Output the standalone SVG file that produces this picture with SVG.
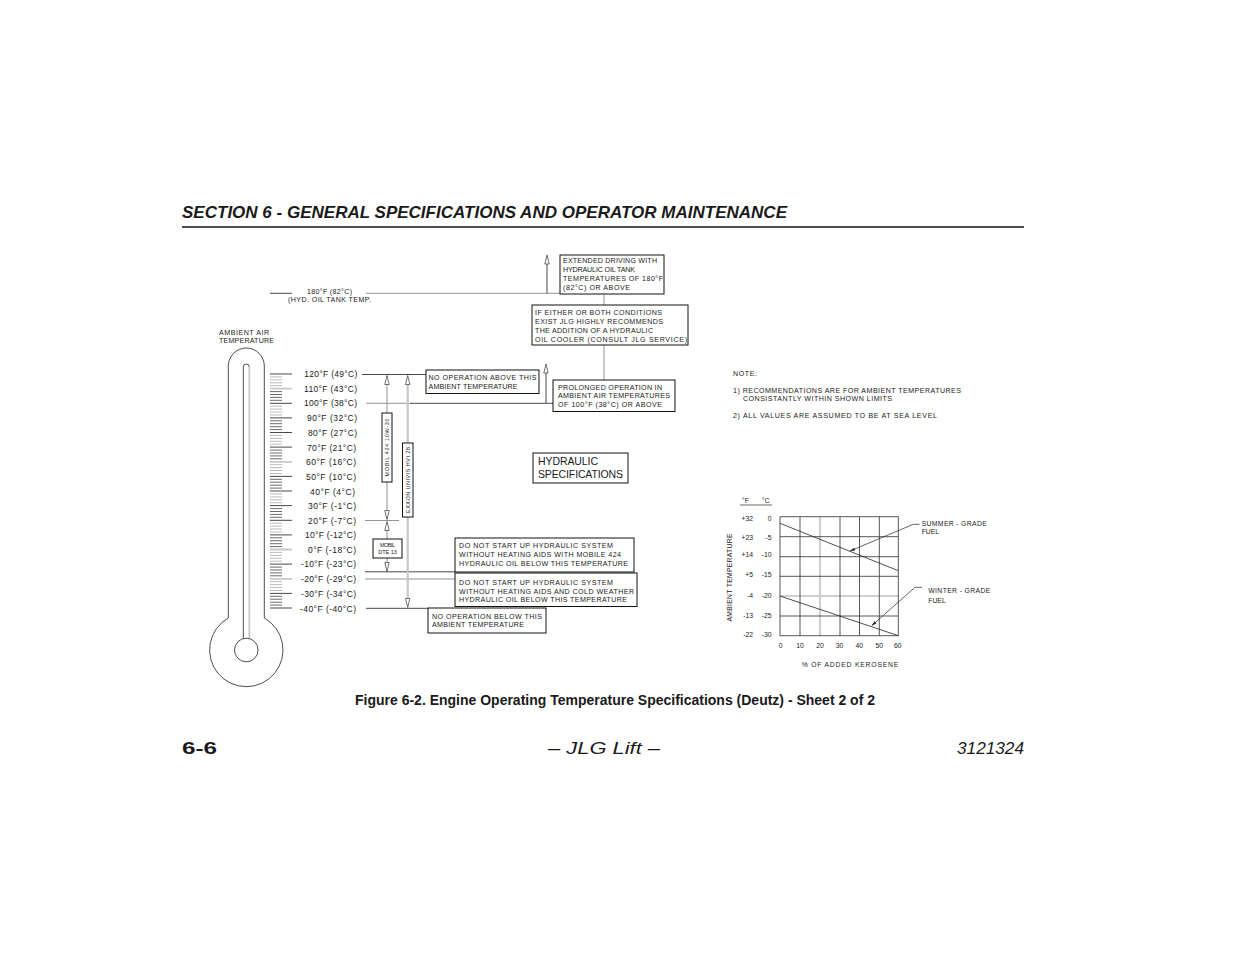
<svg xmlns="http://www.w3.org/2000/svg" xmlns:xlink="http://www.w3.org/1999/xlink" width="1235" height="954" viewBox="0 0 1235 954">
<style>
text{font-family:"Liberation Sans",Arial,Helvetica,sans-serif;fill:#1a1a1a}
.s{font-size:7.1px}
.l{font-size:8.5px}
.c{font-size:6.8px}
.box{fill:#fff;stroke:#111;stroke-width:1}
.ln{stroke:#333;stroke-width:0.9;fill:none}
.lg{stroke:#888;stroke-width:0.9;fill:none}
.lt{stroke:#c8c8c8;stroke-width:2.2;fill:none}
.arr{fill:#fff;stroke:#333;stroke-width:0.7}
.grid{stroke:#444;stroke-width:0.9;fill:none}
.gridl{stroke:#cfcfcf;stroke-width:2.2;fill:none}
</style>
<defs>
<path id="au" class="arr" d="M0 0 L-2.2 9 L2.2 9 Z"/>
<path id="ad" class="arr" d="M0 0 L-2.2 -9 L2.2 -9 Z"/>
</defs>
<rect width="1235" height="954" fill="#fff"/>

<g id="header">
<text x="182" y="218" font-size="17" font-weight="bold" font-style="italic" textLength="605" lengthAdjust="spacingAndGlyphs">SECTION 6 - GENERAL SPECIFICATIONS AND OPERATOR MAINTENANCE</text>
<line x1="182" y1="227" x2="1024" y2="227" stroke="#111" stroke-width="1.3"/>
</g>

<g id="thermometer">
<path d="M228.3 618 V366 A18 18 0 0 1 264.3 366 V618 A36.7 36.7 0 1 1 228.3 618 Z" fill="none" stroke="#222" stroke-width="0.8"/>
<path d="M243.3 638.6 V367 A3 3 0 0 1 249.3 367" fill="none" stroke="#222" stroke-width="0.8"/>
<line x1="249.3" y1="367" x2="249.3" y2="638.6" stroke="#c8c8c8" stroke-width="1.8"/>
<circle cx="246.3" cy="650" r="11.8" fill="none" stroke="#222" stroke-width="0.8"/>
<path stroke="#444" stroke-width="0.8" d="M270 391.6h12M270 394.5h12M270 397.4h12M270 400.3h12M270 420.8h12M270 423.7h12M270 426.7h12M270 429.6h12M270 450.1h12M270 453h12M270 455.9h12M270 458.8h12M270 479.3h12M270 482.2h12M270 485.2h12M270 488.1h12M270 508.6h12M270 511.5h12M270 514.4h12M270 517.3h12M270 537.8h12M270 540.7h12M270 543.7h12M270 546.6h12M270 567.1h12M270 570h12M270 572.9h12M270 575.8h12M270 596.3h12M270 599.2h12M270 602.2h12M270 605.1h12"/>
<path stroke="#aaa" stroke-width="0.8" d="M270 376.9h12M270 379.9h12M270 382.8h12M270 385.7h12M270 406.2h12M270 409.1h12M270 412h12M270 415h12M270 435.4h12M270 438.4h12M270 441.3h12M270 444.2h12M270 464.7h12M270 467.6h12M270 470.5h12M270 473.5h12M270 493.9h12M270 496.9h12M270 499.8h12M270 502.7h12M270 523.2h12M270 526.1h12M270 529h12M270 532h12M270 552.4h12M270 555.4h12M270 558.3h12M270 561.2h12M270 581.7h12M270 584.6h12M270 587.5h12M270 590.5h12"/>
<path stroke="#333" stroke-width="0.9" d="M270 374h22M270 403.3h22M270 417.9h22M270 432.5h22M270 447.1h22M270 476.4h22M270 491h22M270 505.6h22M270 520.3h22M270 534.9h22M270 564.1h22M270 593.4h22M270 608h22"/>
<path stroke="#c8c8c8" stroke-width="1.8" d="M270 388.6h22M270 461.8h22M270 549.5h22M270 578.8h22"/>
<text class="s" x="219" y="334.5" textLength="50" lengthAdjust="spacing">AMBIENT AIR</text>
<text class="s" x="219" y="343" textLength="55" lengthAdjust="spacing">TEMPERATURE</text>
</g>

<g id="temp-labels">
<text class="l" x="304.3" y="377" textLength="53" lengthAdjust="spacing">120°F (49°C)</text>
<text class="l" x="304" y="392" textLength="53" lengthAdjust="spacing">110°F (43°C)</text>
<text class="l" x="304" y="406" textLength="53" lengthAdjust="spacing">100°F (38°C)</text>
<text class="l" x="307" y="421" textLength="50" lengthAdjust="spacing">90°F (32°C)</text>
<text class="l" x="308" y="436" textLength="49" lengthAdjust="spacing">80°F (27°C)</text>
<text class="l" x="307" y="451" textLength="49" lengthAdjust="spacing">70°F (21°C)</text>
<text class="l" x="306" y="465" textLength="50" lengthAdjust="spacing">60°F (16°C)</text>
<text class="l" x="306" y="480" textLength="50" lengthAdjust="spacing">50°F (10°C)</text>
<text class="l" x="310" y="495" textLength="45" lengthAdjust="spacing">40°F (4°C)</text>
<text class="l" x="308" y="509" textLength="48" lengthAdjust="spacing">30°F (-1°C)</text>
<text class="l" x="308" y="524" textLength="48" lengthAdjust="spacing">20°F (-7°C)</text>
<text class="l" x="305" y="538" textLength="51" lengthAdjust="spacing">10°F (-12°C)</text>
<text class="l" x="308" y="553" textLength="48" lengthAdjust="spacing">0°F (-18°C)</text>
<text class="l" x="301" y="567" textLength="55" lengthAdjust="spacing">-10°F (-23°C)</text>
<text class="l" x="301" y="582" textLength="55" lengthAdjust="spacing">-20°F (-29°C)</text>
<text class="l" x="301" y="597" textLength="55" lengthAdjust="spacing">-30°F (-34°C)</text>
<text class="l" x="300" y="612" textLength="56" lengthAdjust="spacing">-40°F (-40°C)</text>
</g>

<g id="hyd-tank-label">
<text class="s" x="307" y="294" textLength="45" lengthAdjust="spacing">180°F (82°C)</text>
<text class="s" x="288" y="301.5" textLength="83" lengthAdjust="spacing">(HYD. OIL TANK TEMP.</text>
</g>

<g id="connectors">
<line class="ln" x1="270" y1="293.3" x2="292" y2="293.3"/>
<line class="lg" x1="366" y1="293.3" x2="560" y2="293.3"/>
<line class="ln" x1="547" y1="293.3" x2="547" y2="264"/>
<use xlink:href="#au" x="547" y="255"/>
<line class="lg" x1="604" y1="294" x2="604" y2="305"/>
<line class="lg" x1="604" y1="345" x2="604" y2="380"/>
<line class="ln" x1="362" y1="374.5" x2="426" y2="374.5"/>
<line class="lg" x1="366" y1="403.3" x2="410" y2="403.3"/>
<line class="ln" x1="410" y1="403.3" x2="553" y2="403.3"/>
<line class="ln" x1="546" y1="403.3" x2="546" y2="373"/>
<use xlink:href="#au" x="546" y="364"/>
<line class="lg" x1="365" y1="520.5" x2="399" y2="520.5"/>
<line class="ln" x1="365" y1="571.8" x2="455" y2="571.8"/>
<line class="lt" x1="365" y1="579" x2="455" y2="579"/>
<line class="ln" x1="366" y1="608.3" x2="428" y2="608.3"/>
<line class="lg" x1="387" y1="384.5" x2="387" y2="413"/>
<line class="lg" x1="387" y1="482" x2="387" y2="510.5"/>
<use xlink:href="#au" x="387" y="375.5"/>
<use xlink:href="#ad" x="387" y="519.5"/>
<line class="lg" x1="387" y1="530.5" x2="387" y2="539"/>
<line class="lg" x1="387" y1="558" x2="387" y2="562.5"/>
<use xlink:href="#au" x="387" y="521.5"/>
<use xlink:href="#ad" x="387" y="571.5"/>
<line class="lt" x1="407.7" y1="384.5" x2="407.7" y2="443"/>
<line class="lt" x1="407.7" y1="517" x2="407.7" y2="598.5"/>
<use xlink:href="#au" x="407.7" y="375.5"/>
<use xlink:href="#ad" x="407.7" y="607.5"/>
</g>

<g id="node-extended">
<rect class="box" x="560" y="255" width="104" height="39"/>
<text class="s" x="563" y="263" textLength="94" lengthAdjust="spacing">EXTENDED DRIVING WITH</text>
<text class="s" x="563" y="272" textLength="72" lengthAdjust="spacing">HYDRAULIC OIL TANK</text>
<text class="s" x="563" y="281" textLength="100" lengthAdjust="spacing">TEMPERATURES OF 180°F</text>
<text class="s" x="563" y="290" textLength="67" lengthAdjust="spacing">(82°C) OR ABOVE</text>
</g>

<g id="node-cooler">
<rect class="box" x="532" y="305" width="156" height="40"/>
<text class="s" x="535" y="315" textLength="127" lengthAdjust="spacing">IF EITHER OR BOTH CONDITIONS</text>
<text class="s" x="535" y="324" textLength="128" lengthAdjust="spacing">EXIST JLG HIGHLY RECOMMENDS</text>
<text class="s" x="535" y="332.5" textLength="118" lengthAdjust="spacing">THE ADDITION OF A HYDRAULIC</text>
<text class="s" x="535" y="341.5" textLength="152" lengthAdjust="spacing">OIL COOLER (CONSULT JLG SERVICE)</text>
</g>

<g id="node-no-op-above">
<rect class="box" x="426" y="370" width="113" height="23.5"/>
<text class="s" x="428.5" y="380" textLength="108" lengthAdjust="spacing">NO OPERATION ABOVE THIS</text>
<text class="s" x="428.5" y="388.5" textLength="89" lengthAdjust="spacing">AMBIENT TEMPERATURE</text>
</g>

<g id="node-prolonged">
<rect class="box" x="553" y="380" width="122" height="31.5"/>
<text class="s" x="558" y="389.5" textLength="104" lengthAdjust="spacing">PROLONGED OPERATION IN</text>
<text class="s" x="558" y="398" textLength="112" lengthAdjust="spacing">AMBIENT AIR TEMPERATURES</text>
<text class="s" x="558" y="406.5" textLength="104" lengthAdjust="spacing">OF 100°F (38°C) OR ABOVE</text>
</g>

<g id="node-hydraulic">
<rect class="box" x="533" y="453" width="95" height="30"/>
<text x="538" y="464.5" font-size="10.5" textLength="60" lengthAdjust="spacing">HYDRAULIC</text>
<text x="538" y="478" font-size="10.5" textLength="85" lengthAdjust="spacing">SPECIFICATIONS</text>
</g>

<g id="node-mobil424">
<rect class="box" x="382" y="413" width="10" height="69"/>
<text transform="translate(389.2,447.5) rotate(-90)" x="0" y="0" font-size="5.5" text-anchor="middle" textLength="58" lengthAdjust="spacing">MOBIL 424 10W-30</text>
</g>

<g id="node-exxon">
<rect class="box" x="402.5" y="443" width="10.5" height="74"/>
<text transform="translate(409.8,480) rotate(-90)" x="0" y="0" font-size="5.5" text-anchor="middle" textLength="66" lengthAdjust="spacing">EXXON UNIVIS HVI 26</text>
</g>

<g id="node-dte13">
<rect class="box" x="373" y="539" width="29" height="19"/>
<text x="387.5" y="546.8" font-size="5.5" text-anchor="middle" textLength="15" lengthAdjust="spacing">MOBIL</text>
<text x="387.5" y="553.5" font-size="5.5" text-anchor="middle" textLength="18.5" lengthAdjust="spacing">DTE 13</text>
</g>

<g id="node-no-start-mobil">
<rect class="box" x="455" y="538" width="179" height="34"/>
<text class="s" x="459" y="548" textLength="154" lengthAdjust="spacing">DO NOT START UP HYDRAULIC SYSTEM</text>
<text class="s" x="459" y="556.5" textLength="162" lengthAdjust="spacing">WITHOUT HEATING AIDS WITH MOBILE 424</text>
<text class="s" x="459" y="565.5" textLength="169" lengthAdjust="spacing">HYDRAULIC OIL BELOW THIS TEMPERATURE</text>
</g>

<g id="node-no-start-cold">
<rect class="box" x="455" y="573" width="182" height="33.5"/>
<text class="s" x="459" y="584.5" textLength="154" lengthAdjust="spacing">DO NOT START UP HYDRAULIC SYSTEM</text>
<text class="s" x="459" y="593.5" textLength="175" lengthAdjust="spacing">WITHOUT HEATING AIDS AND COLD WEATHER</text>
<text class="s" x="459" y="602" textLength="168" lengthAdjust="spacing">HYDRAULIC OIL BELOW THIS TEMPERATURE</text>
</g>

<g id="node-no-op-below">
<rect class="box" x="428" y="608" width="118" height="25"/>
<text class="s" x="432" y="618.5" textLength="110" lengthAdjust="spacing">NO OPERATION BELOW THIS</text>
<text class="s" x="432" y="627" textLength="92" lengthAdjust="spacing">AMBIENT TEMPERATURE</text>
</g>

<g id="note">
<text class="s" x="733" y="376" textLength="24" lengthAdjust="spacing">NOTE:</text>
<text class="s" x="733" y="392.7" textLength="228" lengthAdjust="spacing">1) RECOMMENDATIONS ARE FOR AMBIENT TEMPERATURES</text>
<text class="s" x="743" y="401" textLength="149" lengthAdjust="spacing">CONSISTANTLY WITHIN SHOWN LIMITS</text>
<text class="s" x="733" y="417.7" textLength="204" lengthAdjust="spacing">2) ALL VALUES ARE ASSUMED TO BE AT SEA LEVEL</text>
</g>

<g id="kerosene-chart">
<text class="c" x="742" y="502.5">°F</text>
<text class="c" x="762" y="502.5">°C</text>
<line x1="740" y1="505" x2="772" y2="505" stroke="#444" stroke-width="0.8"/>
<g text-anchor="end">
<text class="c" x="753" y="520.7">+32</text>
<text class="c" x="753" y="540">+23</text>
<text class="c" x="753" y="557.4">+14</text>
<text class="c" x="753" y="577.4">+5</text>
<text class="c" x="753" y="598.4">-4</text>
<text class="c" x="753" y="618.4">-13</text>
<text class="c" x="753" y="637.4">-22</text>
<text class="c" x="771.5" y="520.7">0</text>
<text class="c" x="771.5" y="540">-5</text>
<text class="c" x="771.5" y="557.4">-10</text>
<text class="c" x="771.5" y="577.4">-15</text>
<text class="c" x="771.5" y="598.4">-20</text>
<text class="c" x="771.5" y="618.4">-25</text>
<text class="c" x="771.5" y="637.4">-30</text>
</g>
<line class="gridl" x1="820" y1="516.7" x2="820" y2="635.7"/>
<line class="gridl" x1="780" y1="596" x2="898.3" y2="596"/>
<path class="grid" d="M780 516.7H898.3M780 536.7H898.3M780 556.7H898.3M780 576.3H898.3M780 616H898.3M780 635.7H898.3M780 516.7V635.7M800 516.7V635.7M840 516.7V635.7M859.5 516.7V635.7M879.3 516.7V635.7M898.3 516.7V635.7"/>
<line x1="780" y1="523.3" x2="898.3" y2="570.7" stroke="#222" stroke-width="0.8"/>
<line x1="780" y1="596" x2="898.3" y2="635.7" stroke="#222" stroke-width="0.8"/>
<path d="M850 551 L913.3 524.3 H919.5" fill="none" stroke="#222" stroke-width="0.7"/>
<polygon points="850,551 855.2,550.4 854,547.7" fill="#222"/>
<path d="M871.7 625.7 L915 587.3 H922" fill="none" stroke="#222" stroke-width="0.7"/>
<polygon points="871.7,625.7 876.4,623.5 874.4,621.3" fill="#222"/>
<text class="c" x="921.7" y="525.8" textLength="65" lengthAdjust="spacing">SUMMER - GRADE</text>
<text class="c" x="921.7" y="534.3">FUEL</text>
<text class="c" x="928.3" y="592.6" textLength="62" lengthAdjust="spacing">WINTER - GRADE</text>
<text class="c" x="928.3" y="602.6">FUEL</text>
<g text-anchor="middle">
<text class="c" x="780.7" y="647.5">0</text>
<text class="c" x="800" y="647.5">10</text>
<text class="c" x="820" y="647.5">20</text>
<text class="c" x="839.5" y="647.5">30</text>
<text class="c" x="859.3" y="647.5">40</text>
<text class="c" x="879.3" y="647.5">50</text>
<text class="c" x="897.8" y="647.5">60</text>
</g>
<text class="c" x="801.7" y="666.5" textLength="96.6" lengthAdjust="spacing">% OF ADDED KEROSENE</text>
<text class="c" transform="translate(732.4,577.5) rotate(-90)" x="0" y="0" text-anchor="middle" textLength="88" lengthAdjust="spacing">AMBIENT TEMPERATURE</text>
</g>

<g id="caption">
<text x="355" y="705" font-size="14" font-weight="bold" textLength="520" lengthAdjust="spacingAndGlyphs">Figure 6-2. Engine Operating Temperature Specifications (Deutz) - Sheet 2 of 2</text>
</g>

<g id="footer">
<text x="182" y="754" font-size="16" font-weight="bold" textLength="35" lengthAdjust="spacingAndGlyphs">6-6</text>
<text x="548" y="754" font-size="16" font-style="italic" textLength="112" lengthAdjust="spacingAndGlyphs">– JLG Lift –</text>
<text x="957" y="754" font-size="16" font-style="italic" textLength="67" lengthAdjust="spacingAndGlyphs">3121324</text>
</g>
</svg>
